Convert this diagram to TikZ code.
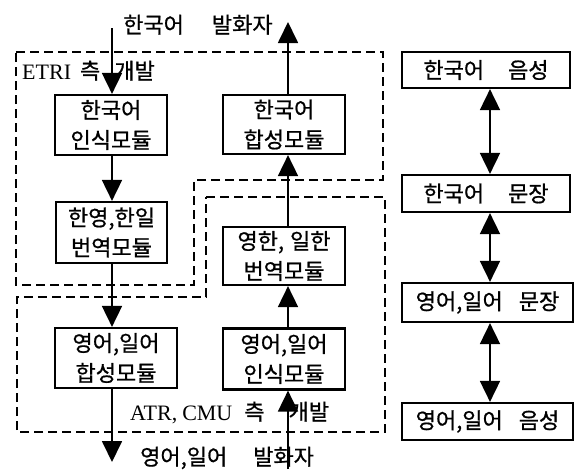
\documentclass[tikz,border=0pt]{standalone}
\usepackage{fontspec}
\setmainfont{Liberation Serif}
\newfontfamily\kr[FakeBold=0.8]{Noto Sans CJK KR}
\usetikzlibrary{arrows.meta}
\begin{document}
\begin{tikzpicture}[x=1pt,y=-1pt,
  mod/.style={draw,line width=2.2pt,align=center,inner sep=0pt,font=\kr\fontsize{22}{30}\selectfont},
  conn/.style={line width=1.8pt,-{Triangle[length=21pt,width=20pt]}},
  dconn/.style={line width=1.8pt,{Triangle[length=21pt,width=20pt]}-{Triangle[length=21pt,width=20pt]}},
  region/.style={line width=2.2pt,dash pattern=on 9pt off 5pt},
  lbl/.style={inner sep=0pt,anchor=base west,font=\fontsize{22}{26}\selectfont}]
\useasboundingbox (0,0) rectangle (576,469);

% dashed regions
\draw[region] (16,52) -- (383,52) -- (383,180) -- (194,180) -- (194,285) -- (16,285) -- cycle;
\draw[region] (206,197) -- (385,197) -- (385,432) -- (17,432) -- (17,297) -- (206,297) -- cycle;

% modules
\node[mod,minimum width=112pt,minimum height=60pt] (k1) at (111,125) {한국어\\인식모듈};
\node[mod,minimum width=111pt,minimum height=61pt] (t1) at (111.5,232.5) {한영,한일\\번역모듈};
\node[mod,minimum width=122pt,minimum height=60pt] (es) at (116,358) {영어,일어\\합성모듈};
\node[mod,minimum width=122pt,minimum height=59pt] (k2) at (284,124.5) {한국어\\합성모듈};
\node[mod,minimum width=122pt,minimum height=58pt] (t2) at (284,256) {영한,\hspace{6pt}일한\\번역모듈};
\node[mod,minimum width=122pt,minimum height=61pt] (er) at (284,359) {영어,일어\\인식모듈};

% right column
\node[mod,minimum width=168pt,minimum height=36pt] (b1) at (486,70) {한국어\hspace{24pt}음성};
\node[mod,minimum width=168pt,minimum height=37pt] (b2) at (486,193.5) {한국어\hspace{24pt}문장};
\node[mod,minimum width=171pt,minimum height=39pt] (b3) at (487.5,302.5) {영어,일어\hspace{16pt}문장};
\node[mod,minimum width=171pt,minimum height=37pt] (b4) at (487.5,421.5) {영어,일어\hspace{16pt}음성};

% labels
\node[lbl] (lt) at (22,79) {ETRI\hspace{9pt}{\kr 측}\hspace{14pt}{\kr 개발}};
\node[lbl] (la) at (130,420) {ATR,\hspace{5pt}CMU\hspace{12pt}{\kr 측}\hspace{24pt}{\kr 개발}};
\node[lbl] (top) at (123,33) {\kr 한국어\hspace{28pt}발화자};
\node[lbl] (bot) at (140,465) {\kr 영어,일어\hspace{26pt}발화자};

% guide coordinates
\coordinate (lx) at (112,0);
\coordinate (rx) at (288,0);
\coordinate (bx) at (490,0);
\coordinate (inTop) at (112,28);
\coordinate (outBot) at (112,462);
\coordinate (inBot) at (288,469);
\coordinate (outTop) at (288,22);

% connectors
\draw[conn] (inTop) -- (lx |- k1.north);
\draw[conn] (lx |- k1.south) -- (lx |- t1.north);
\draw[conn] (lx |- t1.south) -- (lx |- es.north);
\draw[conn] (lx |- es.south) -- (outBot);
\draw[conn] (inBot) -- (rx |- er.south);
\draw[conn] (rx |- er.north) -- (rx |- t2.south);
\draw[conn] (rx |- t2.north) -- (rx |- k2.south);
\draw[conn] (rx |- k2.north) -- (outTop);

\draw[dconn] (bx |- b1.south) -- (bx |- b2.north);
\draw[dconn] (bx |- b2.south) -- (bx |- b3.north);
\draw[dconn] (bx |- b3.south) -- (bx |- b4.north);
\end{tikzpicture}
\end{document}
